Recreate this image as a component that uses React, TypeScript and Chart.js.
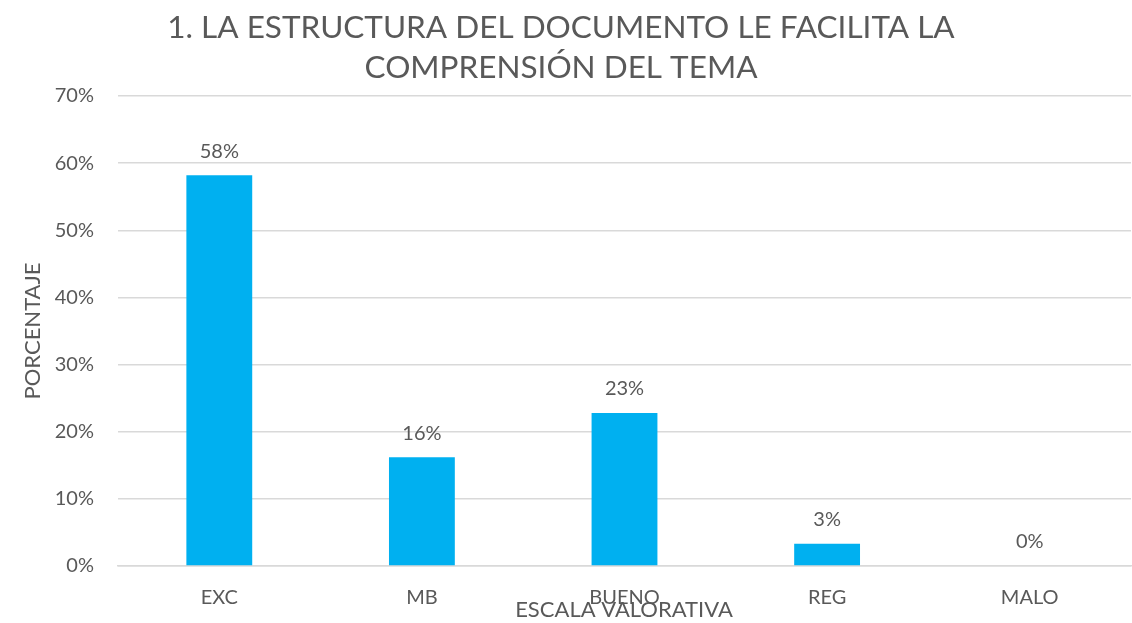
import React, { useEffect, useRef } from "react";
import { Chart, registerables } from "chart.js";

Chart.register(...registerables);

const categories = ["EXC", "MB", "BUENO", "REG", "MALO"];
const values = [58.2, 16.2, 22.8, 3.3, 0];
const valueLabels = ["58%", "16%", "23%", "3%", "0%"];
const titleLines = ["1. LA ESTRUCTURA DEL DOCUMENTO LE FACILITA LA", "COMPRENSIÓN DEL TEMA"];
const xTitle = "ESCALA VALORATIVA";
const yTitle = "PORCENTAJE";

const TEXT = "#595959";
const FONT = "Lato";

const overlay = {
  id: "overlay",
  afterDraw(chart: any) {
    const ctx = chart.ctx;
    ctx.save();
    ctx.fillStyle = TEXT;
    ctx.textAlign = "center";
    ctx.textBaseline = "middle";
    // title
    ctx.font = `31.5px ${FONT}`;
    ctx.fillText(titleLines[0], 561, 28);
    ctx.fillText(titleLines[1], 561, 68);
    // axis titles
    ctx.font = `22px ${FONT}`;
    ctx.fillText(xTitle, 624, 610);
    ctx.save();
    ctx.translate(33, 331);
    ctx.rotate(-Math.PI / 2);
    ctx.fillText(yTitle, 0, 0);
    ctx.restore();
    // data labels
    ctx.font = `20px ${FONT}`;
    const meta = chart.getDatasetMeta(0);
    meta.data.forEach((bar: any, i: number) => {
      ctx.fillText(valueLabels[i], bar.x, bar.y - 24);
    });
    ctx.restore();
  },
};

export default function App() {
  const ref = useRef<HTMLCanvasElement>(null);
  useEffect(() => {
    const chart = new Chart(ref.current!, {
      type: "bar",
      data: {
        labels: categories,
        datasets: [
          {
            data: values,
            backgroundColor: "#00B0F0",
            barPercentage: 1,
            categoryPercentage: 0.325,
          },
        ],
      },
      options: {
        animation: false,
        responsive: false,
        maintainAspectRatio: false,
        layout: { padding: { top: 96, right: 1, left: 0, bottom: 0 } },
        plugins: { legend: { display: false }, tooltip: { enabled: false }, title: { display: false } },
        scales: {
          x: {
            grid: { display: false, drawTicks: false },
            border: { color: "#D9D9D9", width: 1.5 },
            ticks: { color: TEXT, font: { family: FONT, size: 20 }, padding: 20 },
            afterFit(scale: any) {
              scale.height = 57;
            },
          },
          y: {
            min: 0,
            max: 70,
            grid: { color: "#D9D9D9", lineWidth: 1.5, drawTicks: false },
            border: { display: false },
            ticks: {
              stepSize: 10,
              color: TEXT,
              font: { family: FONT, size: 20 },
              padding: 24,
              callback: (v: any) => `${v}%`,
            },
            afterFit(scale: any) {
              scale.width = 118;
            },
          },
        },
      },
      plugins: [overlay],
    });
    return () => chart.destroy();
  }, []);
  return (
    <div style={{ position: "absolute", left: 0, top: 0, width: 1132, height: 623, background: "#fff" }}>
      <canvas ref={ref} width={1132} height={623} style={{ width: 1132, height: 623 }} />
    </div>
  );
}
